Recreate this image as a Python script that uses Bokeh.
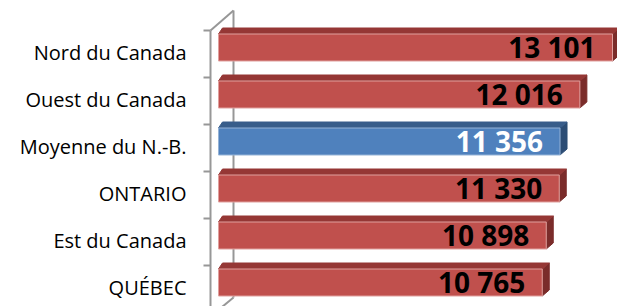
from bokeh.plotting import figure
from bokeh.models import Range1d, ColumnDataSource
from bokeh.core.properties import value
from bokeh.embed import file_html
from bokeh.resources import INLINE

# ---- data ----
categories = ["Nord du Canada", "Ouest du Canada", "Moyenne du N.-B.", "ONTARIO", "Est du Canada", "QUÉBEC"]
values = [13101, 12016, 11356, 11330, 10898, 10765]
labels = ["13 101", "12 016", "11 356", "11 330", "10 898", "10 765"]
highlight = [False, False, True, False, False, False]

# ---- layout constants (pixel geometry converted to data units) ----
W, H = 617, 306
K = 394.0 / 13101          # px per value unit
ROW = 47.0                 # px per category
def px_x(px):
    return px / K
def px_y(px):
    return px / ROW

x0_px = 218                # frame x where value 0 sits
xr = Range1d(-x0_px / K, (W - x0_px) / K)
top_px = 47                # frame y of first category centre
yr = Range1d((H - top_px) / ROW, -top_px / ROW)

p = figure(width=W, height=H, x_range=xr, y_range=yr, output_backend="svg",
           toolbar_location=None, min_border=0)
p.axis.visible = False
p.grid.visible = False
p.outline_line_color = None
p.background_fill_color = "white"
p.border_fill_color = "white"

n = len(values)
idx = list(range(n))

# ---- walls ----
axis_col = "#979797"
fx = px_x(-8)     # front wall x
bx = px_x(15)     # back wall x
p.line([bx, bx], [px_y(-37), n - 1 + px_y(15)], line_color=axis_col, line_width=2)
p.line([fx, bx], [px_y(-17), px_y(-37)], line_color=axis_col, line_width=2)
p.line([fx, bx], [n - 1 + px_y(34), n - 1 + px_y(15)], line_color=axis_col, line_width=2)
p.line([fx, fx], [px_y(-17), n - 1 + px_y(40)], line_color=axis_col, line_width=2)
tick_y = [i + px_y(-17) for i in idx] + [n + px_y(-17)]
p.segment(x0=[px_x(-15)] * len(tick_y), x1=[fx] * len(tick_y), y0=tick_y, y1=tick_y,
          line_color=axis_col, line_width=2)

# ---- bars (3D look) ----
hh = px_y(13.5)
DX = px_x(7)
DY = px_y(6)
front_c = ["#4F81BD" if h else "#C0504D" for h in highlight]
top_c = ["#385D8A" if h else "#953735" for h in highlight]
side_c = ["#2C4D75" if h else "#7A2C2A" for h in highlight]
edge_c = ["#95B3D7" if h else "#E0A09E" for h in highlight]

side_xs, side_ys, top_xs, top_ys = [], [], [], []
for i, v in zip(idx, values):
    t, b = i - hh, i + hh
    side_xs.append([v, v + DX, v + DX, v])
    side_ys.append([t, t - DY, b - DY, b])
    top_xs.append([0, v, v + DX, px_x(4)])
    top_ys.append([t, t, t - DY, t - DY])

p.patches(side_xs, side_ys, fill_color=side_c, line_color=side_c, line_width=1)
p.patches(top_xs, top_ys, fill_color=top_c, line_color=top_c, line_width=1)
p.quad(left=[0] * n, right=values, top=[i - hh for i in idx], bottom=[i + hh for i in idx],
       fill_color=front_c, line_color=edge_c, line_width=1)

# ---- value labels ----
src = ColumnDataSource(dict(
    x=values, y=[i + px_y(-1) for i in idx], text=labels,
    color=["white" if h else "black" for h in highlight]))
p.text(x="x", y="y", text="text", source=src, x_offset=-17,
       text_align="right", text_baseline="middle",
       text_font=value("Open Sans"), text_font_style="bold",
       text_font_size="28px", text_color="color")

# ---- category labels ----
p.text(x=[px_x(-32)] * n, y=[i + px_y(5) for i in idx], text=categories,
       text_align="right", text_baseline="middle",
       text_font=value("Open Sans"), text_font_size="20px", text_color="#000000")

open("out.html", "w").write(file_html(p, INLINE))
